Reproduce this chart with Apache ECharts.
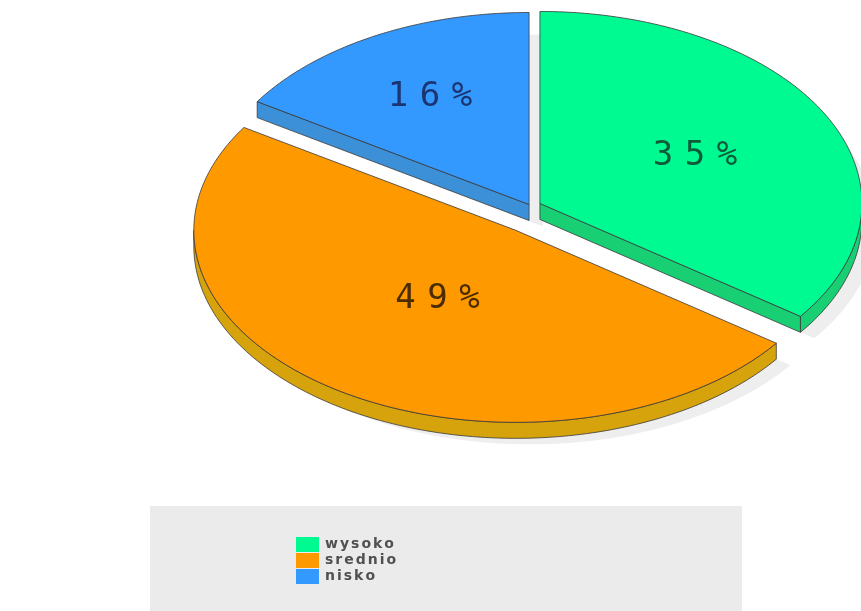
<!DOCTYPE html>
<html>
<head>
<meta charset="utf-8">
<script src="https://cdn.jsdelivr.net/npm/echarts@6/dist/echarts.min.js"></script>
<style>
  html, body { margin: 0; padding: 0; background: #fff; }
  #chart { width: 861px; height: 611px; }
</style>
</head>
<body>
<div id="chart"></div>
<script>
const categories = ['wysoko', 'srednio', 'nisko']
const values = [35, 49, 16]

const topColors = ['#00fa92', '#ff9900', '#3399ff']
const sideColors = ['#18cf74', '#d6a30c', '#3c90d8']
const labelColors = ['#0f5a38', '#4a2c00', '#1c3470']

// ellipse of the tilted pie
const CX = 531
const CY = 208
const RX = 322
const RY = 192
const DEPTH = 16
const explode = [10, 27, 4]
const zOrder = [2, 3, 1]
const SHADOW = [14, 22]

const total = values.reduce((a, b) => a + b, 0)
let acc = 0
const spans = values.map((v) => {
  const t0 = (acc / total) * Math.PI * 2
  acc += v
  return [t0, (acc / total) * Math.PI * 2]
})

function renderItem(params, api) {
  const i = params.dataIndex
  const [t0, t1] = spans[i]
  const tm = (t0 + t1) / 2
  const cx = CX + explode[i] * Math.sin(tm)
  const cy = CY - explode[i] * Math.cos(tm)
  const P = (t, dz = 0) => [cx + RX * Math.sin(t), cy - RY * Math.cos(t) + dz]
  const arc = (a, b, dz) => {
    const n = Math.max(2, Math.ceil(Math.abs(b - a) / 0.02))
    const pts = []
    for (let k = 0; k <= n; k += 1) pts.push(P(a + ((b - a) * k) / n, dz))
    return pts
  }
  const z = zOrder[i] * 10
  const edge = { stroke: '#3a3a3a', lineWidth: 0.8 }
  const children = []

  const top = [[cx, cy], ...arc(t0, t1, 0)]
  children.push({
    type: 'polygon',
    shape: { points: top.map((p) => [p[0] + SHADOW[0], p[1] + SHADOW[1]]) },
    style: { fill: '#eeeeee' },
    z2: 0,
  })

  // front curved wall
  const a = Math.max(t0, Math.PI / 2)
  const b = Math.min(t1, Math.PI * 1.5)
  if (a < b) {
    children.push({
      type: 'polygon',
      shape: { points: [...arc(a, b, 0), ...arc(b, a, DEPTH)] },
      style: { fill: sideColors[i], ...edge },
      z2: z + 1,
    })
  }
  // radial walls facing the viewer
  if (Math.sin(t1) > 1e-6) {
    children.push({
      type: 'polygon',
      shape: { points: [[cx, cy], P(t1), P(t1, DEPTH), [cx, cy + DEPTH]] },
      style: { fill: sideColors[i], ...edge },
      z2: z + 1,
    })
  }
  if (Math.sin(t0) < -1e-6) {
    children.push({
      type: 'polygon',
      shape: { points: [[cx, cy], P(t0), P(t0, DEPTH), [cx, cy + DEPTH]] },
      style: { fill: sideColors[i], ...edge },
      z2: z + 1,
    })
  }

  children.push({
    type: 'polygon',
    shape: { points: top },
    style: { fill: topColors[i], ...edge },
    z2: z + 2,
  })

  // label at the sector centroid
  const half = (t1 - t0) / 2
  const k = (2 * Math.sin(half)) / (3 * half)
  const text = String(api.value(0)) + '%'
  children.push({
    type: 'text',
    x: cx + k * RX * Math.sin(tm),
    y: cy - k * RY * Math.cos(tm),
    style: {
      text: text.split('').map((ch) => `{c|${ch}}`).join(''),
      align: 'center',
      verticalAlign: 'middle',
      rich: {
        c: {
          width: 32,
          align: 'center',
          fontSize: 34,
          fontFamily: 'DejaVu Sans Mono',
          fill: labelColors[i],
        },
      },
    },
    z2: 100,
  })

  return { type: 'group', children }
}

const chart = echarts.init(document.getElementById('chart'))
chart.setOption({
  animation: false,
  color: topColors,
  graphic: [
    {
      type: 'rect',
      shape: { x: 150, y: 506, width: 592, height: 110 },
      style: { fill: '#ebebeb' },
      z: -10,
    },
  ],
  legend: {
    orient: 'vertical',
    left: 291,
    top: 532,
    itemWidth: 23,
    itemHeight: 15,
    itemGap: 1,
    icon: 'rect',
    data: categories,
    formatter: (name) => name.split('').map((ch) => `{c|${ch}}`).join(''),
    textStyle: {
      lineHeight: 15,
      rich: {
        c: {
          fontSize: 14,
          fontWeight: 'bold',
          fontFamily: 'DejaVu Sans',
          color: '#505050',
          padding: [0, 1],
          lineHeight: 15,
        },
      },
    },
  },
  series: [
    {
      type: 'custom',
      coordinateSystem: 'none',
      renderItem,
      data: values.map((v, i) => ({ name: categories[i], value: v })),
    },
    {
      // only feeds the legend
      type: 'pie',
      center: [-50, -50],
      radius: 1,
      silent: true,
      label: { show: false },
      labelLine: { show: false },
      data: values.map((v, i) => ({ name: categories[i], value: v })),
    },
  ],
})
</script>
</body>
</html>
